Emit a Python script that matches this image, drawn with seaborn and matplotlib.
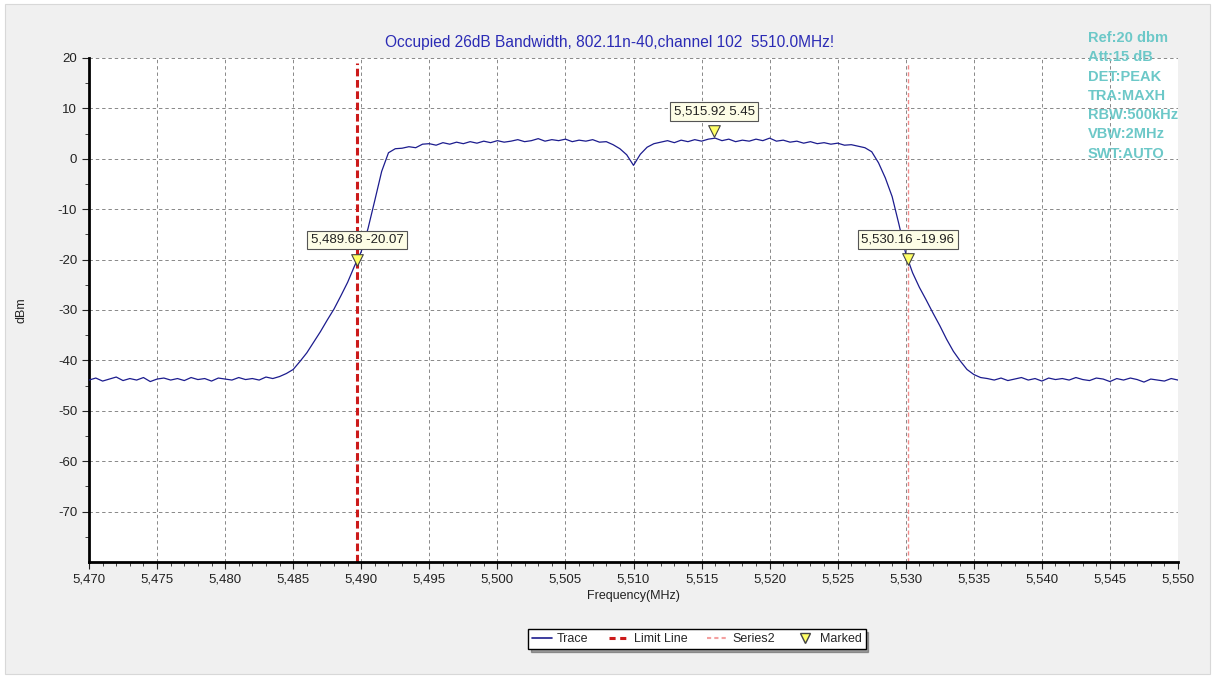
import numpy as np
import seaborn as sns
import matplotlib.pyplot as plt
from matplotlib.lines import Line2D
from matplotlib.patches import Rectangle

# Sweep: 5470 - 5550 MHz, 0.5 MHz step, trace levels (dBm)
start_mhz = 5470.0
step_mhz = 0.5
levels = [
    # 5470 - 5484
    -43.9, -43.5, -44.1, -43.7, -43.3, -44.0, -43.6, -43.9, -43.4, -44.2,
    -43.7, -43.5, -43.9, -43.6, -44.0, -43.4, -43.8, -43.6, -44.1, -43.5,
    -43.7, -43.9, -43.4, -43.8, -43.6, -43.9, -43.3, -43.6, -43.2,
    # 5484.5 - 5491.5 (rising edge)
    -42.6, -41.8, -40.2, -38.5, -36.4, -34.3, -32.0, -29.8, -27.2, -24.5,
    -21.3, -18.4, -13.8, -8.2, -2.5,
    # 5492 - 5535.5 (in-band + falling edge)
    1.2, 2.0, 2.1, 2.4, 2.2, 2.9, 3.0, 2.7, 3.2, 2.9,
    3.3, 3.0, 3.4, 3.1, 3.5, 3.2, 3.6, 3.3, 3.5, 3.8,
    3.4, 3.6, 4.0, 3.5, 3.8, 3.6, 3.9, 3.4, 3.7, 3.5,
    3.8, 3.3, 3.4, 2.8, 2.0, 0.8, -1.3, 0.9, 2.3, 3.0,
    3.3, 3.6, 3.2, 3.7, 3.4, 3.8, 3.5, 3.9, 4.1, 3.6,
    3.9, 3.4, 3.7, 3.5, 3.9, 3.6, 4.1, 3.5, 3.7, 3.3,
    3.5, 3.1, 3.4, 3.0, 3.2, 2.9, 3.1, 2.7, 2.8, 2.5,
    2.2, 1.4, -0.8, -3.8, -7.5, -13.0, -18.8, -22.6, -25.5, -28.0,
    -30.6, -33.1, -35.8, -38.2, -40.1, -41.8, -42.8, -43.4,
    # 5536 - 5550
    -43.6, -43.9, -43.5, -44.0, -43.7, -43.4, -43.9, -43.6, -44.1, -43.5,
    -43.8, -43.6, -43.9, -43.4, -43.8, -44.0, -43.5, -43.7, -44.2, -43.6,
    -43.9, -43.5, -43.8, -44.3, -43.7, -43.9, -44.1, -43.6, -43.9,
]
freq = start_mhz + step_mhz * np.arange(len(levels))

# markers
marker_f = [5489.68, 5515.92, 5530.16]
marker_v = [-20.07, 5.45, -19.96]
marker_txt = ["5,489.68 -20.07", "5,515.92 5.45", "5,530.16 -19.96"]

limit_line_f = 5489.68
series2_f = 5530.16

xticks = [5470, 5475, 5480, 5485, 5490, 5495, 5500, 5505, 5510,
          5515, 5520, 5525, 5530, 5535, 5540, 5545, 5550]
yticks = [20, 10, 0, -10, -20, -30, -40, -50, -60, -70]

info_lines = ["Ref:20 dbm", "Att:15 dB", "DET:PEAK", "TRA:MAXH",
              "RBW:500kHz", "VBW:2MHz", "SWT:AUTO"]

sns.set_style("white")
plt.rcParams['font.family'] = ['Liberation Sans', 'DejaVu Sans']
plt.rcParams['axes.unicode_minus'] = False

fig = plt.figure(figsize=(12.14, 6.77), dpi=100, facecolor='white')
fig.patches.append(Rectangle((5 / 1214, 3 / 677), 1205 / 1214, 670 / 677,
                             transform=fig.transFigure, facecolor='#f0f0f0',
                             edgecolor='#d8d8d8', lw=0.8, zorder=-10))
ax = fig.add_axes([89 / 1214, 1 - 562 / 677, 1089 / 1214, 504 / 677])
ax.set_facecolor('white')

sns.lineplot(x=freq, y=levels, ax=ax, color='#1c1c8e', lw=0.9, zorder=3)

ax.axvline(limit_line_f, ymax=0.99, color='#cc1a1a', lw=2.2, ls=(0, (2.5, 1.2)), zorder=2)
ax.axvline(series2_f, ymax=0.99, color='#f08a8a', lw=1.0, ls=(0, (3, 2)), zorder=2)

ax.scatter(marker_f, marker_v, marker='v', s=70, facecolor='#ffff66',
           edgecolor='#444444', linewidth=0.8, zorder=5)
for f, v, t in zip(marker_f, marker_v, marker_txt):
    ax.annotate(t, (f, v), xytext=(0, 20), textcoords='offset pixels',
                ha='center', va='center', fontsize=9.5, color='#222222', zorder=6,
                bbox=dict(boxstyle='square,pad=0.25', fc='#fdfde6', ec='#555555', lw=0.8))

ax.set_xlim(5470, 5550)
ax.set_ylim(-80, 20)
ax.set_xticks(xticks)
ax.set_xticklabels([f"{t:,}" for t in xticks])
ax.set_xticks(np.arange(5470, 5551, 1), minor=True)
ax.set_yticks(yticks)
ax.set_yticks([15, 5, -5, -15, -25, -35, -45, -55, -65, -75], minor=True)
ax.tick_params(axis='both', which='major', direction='out', length=5, width=0.8,
               labelsize=9.5, colors='#222222', bottom=True, left=True)
ax.tick_params(axis='both', which='minor', direction='out', length=3, width=0.6,
               bottom=True, left=True)
ax.grid(True, which='major', ls=(0, (3.5, 3)), color='#888888', lw=0.7)

for s in ['top', 'right']:
    ax.spines[s].set_visible(False)
for s in ['left', 'bottom']:
    ax.spines[s].set_color('black')
    ax.spines[s].set_linewidth(2)

ax.set_xlabel("Frequency(MHz)", fontsize=9, color='#222222', labelpad=3)
ax.set_ylabel("dBm", fontsize=9, color='#222222', labelpad=22)

fig.text(610 / 1214, 1 - 42 / 677, "Occupied 26dB Bandwidth, 802.11n-40,channel 102  5510.0MHz!",
         ha='center', va='center', fontsize=11.2, color='#2b2bb5')

for i, line in enumerate(info_lines):
    fig.text(1088 / 1214, 1 - (38 + i * 19.3) / 677, line, ha='left', va='center',
             fontsize=10.5, fontweight='bold', color='#6cc8c8')

handles = [
    Line2D([], [], color='#1c1c8e', lw=1.2),
    Line2D([], [], color='#cc1a1a', lw=2.2, ls=(0, (2, 1.5))),
    Line2D([], [], color='#f4a0a0', lw=1.5, ls=(0, (2, 1.5))),
    Line2D([], [], ls='', marker='v', markersize=7, markerfacecolor='#ffff66',
           markeredgecolor='#444444'),
]
leg = fig.legend(handles, ["Trace", "Limit Line", "Series2", "Marked"],
                 loc='center', bbox_to_anchor=(697 / 1214, 1 - 639 / 677), ncol=4,
                 fontsize=9, frameon=True, fancybox=False, shadow=True,
                 handlelength=1.6, handletextpad=0.4, columnspacing=1.6,
                 borderpad=0.3, edgecolor='black')
leg.get_frame().set_linewidth(1.0)

fig.savefig("out.png", dpi=100, facecolor=fig.get_facecolor())
